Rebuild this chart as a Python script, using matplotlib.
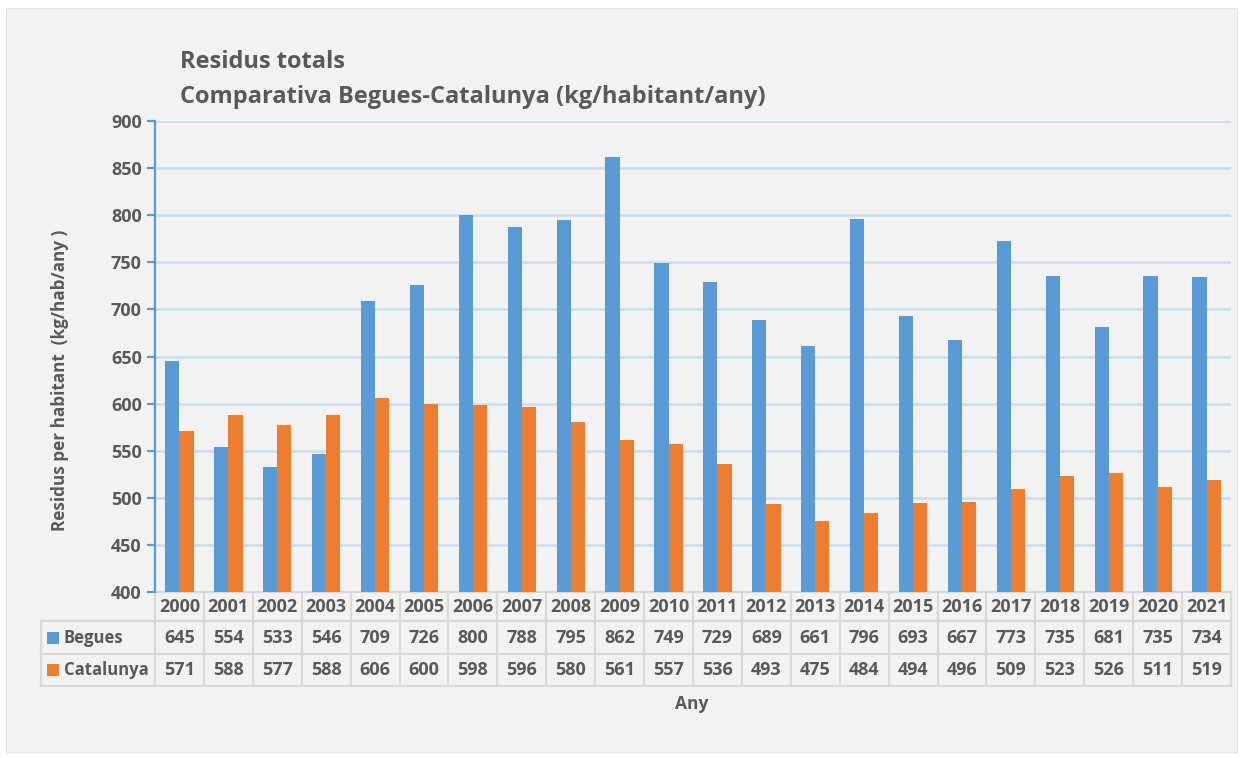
import matplotlib
matplotlib.use("Agg")
import matplotlib.pyplot as plt
from matplotlib.patches import Rectangle
from matplotlib.lines import Line2D
import numpy as np

years = ["2000","2001","2002","2003","2004","2005","2006","2007","2008","2009","2010",
         "2011","2012","2013","2014","2015","2016","2017","2018","2019","2020","2021"]
begues = [645,554,533,546,709,726,800,788,795,862,749,729,689,661,796,693,667,773,735,681,735,734]
catalunya = [571,588,577,588,606,600,598,596,580,561,557,536,493,475,484,494,496,509,523,526,511,519]
series_names = ["Begues", "Catalunya"]
yticks = [400,450,500,550,600,650,700,750,800,850,900]

BLUE = "#5B9BD5"
ORANGE = "#ED7D31"
TXT = "#595959"
BG = "#F2F2F2"
GRID = "#C9DDF0"
TBL = "#D9D9D9"
FONT = "Open Sans"

W, H = 1243, 758
fig = plt.figure(figsize=(W/100, H/100), dpi=100)
fig.patch.set_facecolor("white")
fig.patches.append(Rectangle((6/W, 1-752/H), (1237-6)/W, (752-8)/H,
                             transform=fig.transFigure, facecolor=BG, edgecolor="#E4E4E4", lw=0.8, zorder=-10))

left, right = 155/W, 1231/W
bottom, top = 1-592/H, 1-121/H
ax = fig.add_axes([left, bottom, right-left, top-bottom])
ax.set_facecolor(BG)
ax.patch.set_alpha(0)

n = len(years)
x = np.arange(n)
bw = 0.29
ax.bar(x - bw/2, begues, width=bw, color=BLUE, zorder=3)
ax.bar(x + bw/2, catalunya, width=bw, color=ORANGE, zorder=3)

ax.set_xlim(-0.5, n-0.5)
ax.set_ylim(400, 900)
ax.set_yticks(yticks)
for t in yticks[1:]:
    ax.axhline(t, color=GRID, lw=1.8, zorder=1)

for s in ["top", "right", "bottom"]:
    ax.spines[s].set_visible(False)
ax.spines["left"].set_color(BLUE)
ax.spines["left"].set_linewidth(1.6)
ax.tick_params(axis="y", colors=BLUE, length=5.5, width=1.6, direction="out", pad=4)
ax.tick_params(axis="x", bottom=False, labelbottom=False)
for lbl in ax.get_yticklabels():
    lbl.set_color(TXT)
    lbl.set_fontsize(13)
    lbl.set_fontweight("bold")
    lbl.set_family(FONT)

# Data table
axh = top - bottom
def py(p):  # pixel offset below axis bottom -> axes fraction
    return -p / (axh * H)

row_edges = [0, 29, 62, 94]
tr = ax.transAxes
lab_left = (41/W - left) / (right-left)
for i, e in enumerate(row_edges):
    x0 = 0 if i == 0 else lab_left
    ax.add_line(Line2D([x0, 1], [py(e), py(e)], transform=tr, color=TBL, lw=1.6, clip_on=False))
for k in range(n+1):
    xf = k / n
    ax.add_line(Line2D([xf, xf], [py(0), py(94)], transform=tr, color=TBL, lw=1.6, clip_on=False))
ax.add_line(Line2D([lab_left, lab_left], [py(29), py(94)], transform=tr, color=TBL, lw=1.6, clip_on=False))

tkw = dict(transform=tr, ha="center", va="center", color=TXT, fontsize=13,
           fontweight="bold", family=FONT, clip_on=False)
for k in range(n):
    xc = (k + 0.5) / n
    ax.text(xc, py(14.5), years[k], **tkw)
    ax.text(xc, py(46), str(begues[k]), **tkw)
    ax.text(xc, py(78), str(catalunya[k]), **tkw)

for vals_y, name, col in [(46, series_names[0], BLUE), (78, series_names[1], ORANGE)]:
    sq = 12 / ((right-left) * W)
    sqh = 12 / (axh * H)
    ax.add_patch(Rectangle((lab_left + 6/((right-left)*W), py(vals_y) - sqh/2), sq, sqh,
                           transform=tr, facecolor=col, edgecolor="none", clip_on=False))
    ax.text(lab_left + 23/((right-left)*W), py(vals_y), name, transform=tr, ha="left", va="center",
            color=TXT, fontsize=12, fontweight="bold", family=FONT, clip_on=False)

# Titles and labels
fig.text(180/W, 1-62/H, "Residus totals", ha="left", va="center", color=TXT,
         fontsize=17, fontweight="bold", family=FONT)
fig.text(180/W, 1-97/H, "Comparativa Begues-Catalunya (kg/habitant/any)", ha="left", va="center",
         color=TXT, fontsize=17, fontweight="bold", family=FONT)
fig.text(60/W, 1-380/H, "Residus per habitant  (kg/hab/any )", rotation=90, ha="center", va="center",
         color=TXT, fontsize=12.3, fontweight="bold", family=FONT)
fig.text(692/W, 1-704/H, "Any", ha="center", va="center", color=TXT, fontsize=12.5,
         fontweight="bold", family=FONT)

fig.savefig("out.png", dpi=100, facecolor=fig.get_facecolor())
